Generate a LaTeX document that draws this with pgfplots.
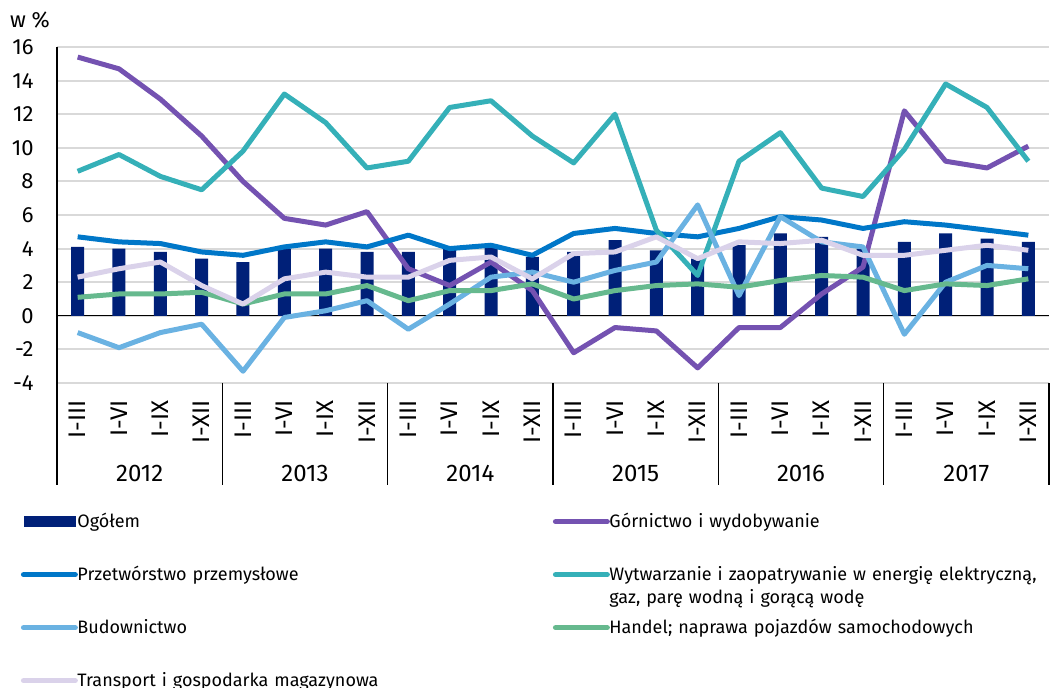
\documentclass[border=0pt]{standalone}
\usepackage{fontspec}
\setmainfont{Fira Sans}
\usepackage{pgfplots}
\usepackage{pgfplotstable}
\pgfplotsset{compat=1.18}

\definecolor{cOgol}{RGB}{0,32,120}
\definecolor{cGorn}{RGB}{116,82,177}
\definecolor{cPrzet}{RGB}{0,119,200}
\definecolor{cWytw}{RGB}{53,176,184}
\definecolor{cBud}{RGB}{106,178,226}
\definecolor{cHand}{RGB}{102,185,142}
\definecolor{cTrans}{RGB}{218,210,234}

% x = kolejny okres (I-III 2012 = 0 ... I-XII 2017 = 23)
\pgfplotstableread{
x  og   gorn  przetw wytw  bud   handel transp
0  4.1  15.4  4.7    8.6   -1.0  1.1    2.3
1  4.0  14.7  4.4    9.6   -1.9  1.3    2.8
2  3.8  12.9  4.3    8.3   -1.0  1.3    3.2
3  3.4  10.7  3.8    7.5   -0.5  1.4    1.8
4  3.2  8.0   3.6    9.8   -3.3  0.7    0.7
5  4.0  5.8   4.1    13.2  -0.1  1.3    2.2
6  4.0  5.4   4.4    11.5  0.3   1.3    2.6
7  3.8  6.2   4.1    8.8   0.9   1.8    2.3
8  3.8  2.8   4.8    9.2   -0.8  0.9    2.3
9  4.0  1.8   4.0    12.4  0.7   1.5    3.3
10 4.1  3.2   4.2    12.8  2.3   1.5    3.5
11 3.5  1.5   3.6    10.7  2.6   1.9    2.2
12 3.8  -2.2  4.9    9.1   2.0   1.0    3.7
13 4.5  -0.7  5.2    12.0  2.7   1.5    3.8
14 3.9  -0.9  4.9    5.1   3.2   1.8    4.7
15 3.4  -3.1  4.7    2.4   6.6   1.9    3.4
16 4.2  -0.7  5.2    9.2   1.2   1.7    4.4
17 4.9  -0.7  5.9    10.9  5.9   2.1    4.3
18 4.7  1.3   5.7    7.6   4.4   2.4    4.5
19 4.0  2.9   5.2    7.1   4.1   2.3    3.6
20 4.4  12.2  5.6    9.9   -1.1  1.5    3.6
21 4.9  9.2   5.4    13.8  2.0   1.9    3.9
22 4.6  8.8   5.1    12.4  3.0   1.8    4.2
23 4.4  10.1  4.8    9.2   2.8   2.2    3.9
}\dane

\begin{document}
\begin{tikzpicture}
\begin{axis}[
  scale only axis, width=496pt, height=168pt,
  xmin=-0.5, xmax=23.5, ymin=-4, ymax=16,
  ytick={-4,-2,...,16},
  xtick={0,...,23},
  xticklabels={I-III,I-VI,I-IX,I-XII,I-III,I-VI,I-IX,I-XII,I-III,I-VI,I-IX,I-XII,
               I-III,I-VI,I-IX,I-XII,I-III,I-VI,I-IX,I-XII,I-III,I-VI,I-IX,I-XII},
  axis line style={draw=none},
  major tick length=0pt,
  ymajorgrids, grid style={draw=gray!30, line width=1pt},
  clip=false,
  /pgf/number format/assume math mode=true,
  yticklabel style={font=\fontsize{11}{13}\selectfont, inner sep=0pt, anchor=east},
  yticklabel shift=11.5pt,
  xticklabel style={font=\fontsize{12}{14}\selectfont, inner sep=0pt, rotate=90, anchor=east},
  xticklabel shift=8.5pt,
  legend columns=2,
  legend style={at={(axis description cs:-0.0393,-0.3878)}, anchor=north west,
    draw=none, fill=none, inner sep=0pt, row sep=0pt,
    /tikz/every odd column/.append style={column sep=-1.5pt},
    /tikz/every even column/.append style={column sep=1.5pt},
    font=\fontsize{9}{11.3}\selectfont,
    nodes={text width=235pt, text height=7pt, text depth=19.5pt, inner sep=0pt, align=left},
    cells={anchor=base west}},
  every axis plot/.append style={line width=2.5pt, line join=round,
    legend image code/.code={
      \draw[line width=2.8pt, line cap=round] (1.4pt,3pt) -- (27.1pt,3pt);
      \path (0pt,0pt) (28.5pt,0pt);}},
]
\draw[line width=0.7pt] (axis cs:-0.5,0) -- (axis cs:23.5,0);

\addplot[ybar, bar width=6.5pt, fill=cOgol, draw=none,
  legend image code/.code={\fill (1.5pt,0.3pt) rectangle (27.5pt,5.7pt); \path (0pt,0pt) (28.5pt,0pt);}]
  table[x=x, y=og] {\dane};
\addlegendentry{Ogółem}
\addplot[cGorn] table[x=x, y=gorn] {\dane};
\addlegendentry{Górnictwo i wydobywanie}
\addplot[cPrzet] table[x=x, y=przetw] {\dane};
\addlegendentry{Przetwórstwo przemysłowe}
\addplot[cWytw] table[x=x, y=wytw] {\dane};
\addlegendentry{Wytwarzanie i zaopatrywanie w energię elektryczną,\\ gaz, parę wodną i gorącą wodę}
\addplot[cBud] table[x=x, y=bud] {\dane};
\addlegendentry{Budownictwo}
\addplot[cHand] table[x=x, y=handel] {\dane};
\addlegendentry{Handel; naprawa pojazdów samochodowych}
\addplot[cTrans] table[x=x, y=transp] {\dane};
\addlegendentry{Transport i gospodarka magazynowa}

% os pionowa i separatory lat
\draw[line width=0.7pt] (axis cs:-0.5,16) -- (axis cs:-0.5,-4) -- ++(0pt,-51pt);
\draw[line width=0.7pt] (axis cs:3.5,-4) -- ++(0pt,-51pt);
\draw[line width=0.7pt] (axis cs:7.5,-4) -- ++(0pt,-51pt);
\draw[line width=0.7pt] (axis cs:11.5,-4) -- ++(0pt,-51pt);
\draw[line width=0.7pt] (axis cs:15.5,-4) -- ++(0pt,-51pt);
\draw[line width=0.7pt] (axis cs:19.5,-4) -- ++(0pt,-51pt);
\draw[line width=0.7pt] (axis cs:23.5,-4) -- ++(0pt,-51pt);

\node[font=\fontsize{12}{14}\selectfont] at ([yshift=-45.5pt]axis cs:1.5,-4) {2012};
\node[font=\fontsize{12}{14}\selectfont] at ([yshift=-45.5pt]axis cs:5.5,-4) {2013};
\node[font=\fontsize{12}{14}\selectfont] at ([yshift=-45.5pt]axis cs:9.5,-4) {2014};
\node[font=\fontsize{12}{14}\selectfont] at ([yshift=-45.5pt]axis cs:13.5,-4) {2015};
\node[font=\fontsize{12}{14}\selectfont] at ([yshift=-45.5pt]axis cs:17.5,-4) {2016};
\node[font=\fontsize{12}{14}\selectfont] at ([yshift=-45.5pt]axis cs:21.5,-4) {2017};

\node[font=\fontsize{11}{13}\selectfont] at ([xshift=-13.5pt, yshift=13.5pt]axis cs:-0.5,16) {w \%};
\end{axis}
\pgfresetboundingbox
\useasboundingbox (-28.5pt,-152.5pt) rectangle (497pt,191.5pt);
\end{tikzpicture}
\end{document}
